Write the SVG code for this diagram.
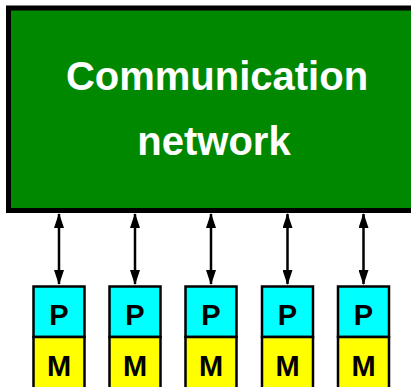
<svg xmlns="http://www.w3.org/2000/svg" width="411" height="387" viewBox="0 0 411 387">
<style>
.t{font-family:"Liberation Sans",Arial,sans-serif;font-weight:bold;text-anchor:middle}
.big{font-size:40px;fill:#fff}
.sm{font-size:29px;fill:#000}
.p{fill:#00ffff;stroke:#000;stroke-width:2.5}
.m{fill:#ffff00;stroke:#000;stroke-width:2.5}
.c{stroke:#000;stroke-width:2.5;fill:none;marker-start:url(#ah);marker-end:url(#ah)}
</style>
<defs>
<marker id="ah" viewBox="0 0 15 10" refX="14" refY="5" markerWidth="15" markerHeight="10" markerUnits="userSpaceOnUse" orient="auto-start-reverse">
<path d="M0,0 L15,5 L0,10 z" fill="#000"/>
</marker>
</defs>
<g id="network">
<rect x="8.5" y="8" width="410" height="202.5" fill="#008800" stroke="#000" stroke-width="5"/>
<text class="t big" x="217" y="90">Communication</text>
<text class="t big" x="214" y="155">network</text>
</g>
<g id="connectors">
<line class="c" x1="59" y1="214" x2="59" y2="284"/>
<line class="c" x1="135" y1="214" x2="135" y2="284"/>
<line class="c" x1="211" y1="214" x2="211" y2="284"/>
<line class="c" x1="287.5" y1="214" x2="287.5" y2="284"/>
<line class="c" x1="363.5" y1="214" x2="363.5" y2="284"/>
</g>
<g id="pm1">
<rect class="p" x="33.5" y="286.5" width="51" height="50.5"/>
<rect class="m" x="33.5" y="337" width="51" height="55"/>
<text class="t sm" x="59" y="325">P</text>
<text class="t sm" x="59" y="376">M</text>
</g>
<g id="pm2">
<rect class="p" x="109.5" y="286.5" width="51" height="50.5"/>
<rect class="m" x="109.5" y="337" width="51" height="55"/>
<text class="t sm" x="135" y="325">P</text>
<text class="t sm" x="135" y="376">M</text>
</g>
<g id="pm3">
<rect class="p" x="185.5" y="286.5" width="51" height="50.5"/>
<rect class="m" x="185.5" y="337" width="51" height="55"/>
<text class="t sm" x="211" y="325">P</text>
<text class="t sm" x="211" y="376">M</text>
</g>
<g id="pm4">
<rect class="p" x="262" y="286.5" width="51" height="50.5"/>
<rect class="m" x="262" y="337" width="51" height="55"/>
<text class="t sm" x="287.5" y="325">P</text>
<text class="t sm" x="287.5" y="376">M</text>
</g>
<g id="pm5">
<rect class="p" x="338" y="286.5" width="51" height="50.5"/>
<rect class="m" x="338" y="337" width="51" height="55"/>
<text class="t sm" x="363.5" y="325">P</text>
<text class="t sm" x="363.5" y="376">M</text>
</g>
</svg>
